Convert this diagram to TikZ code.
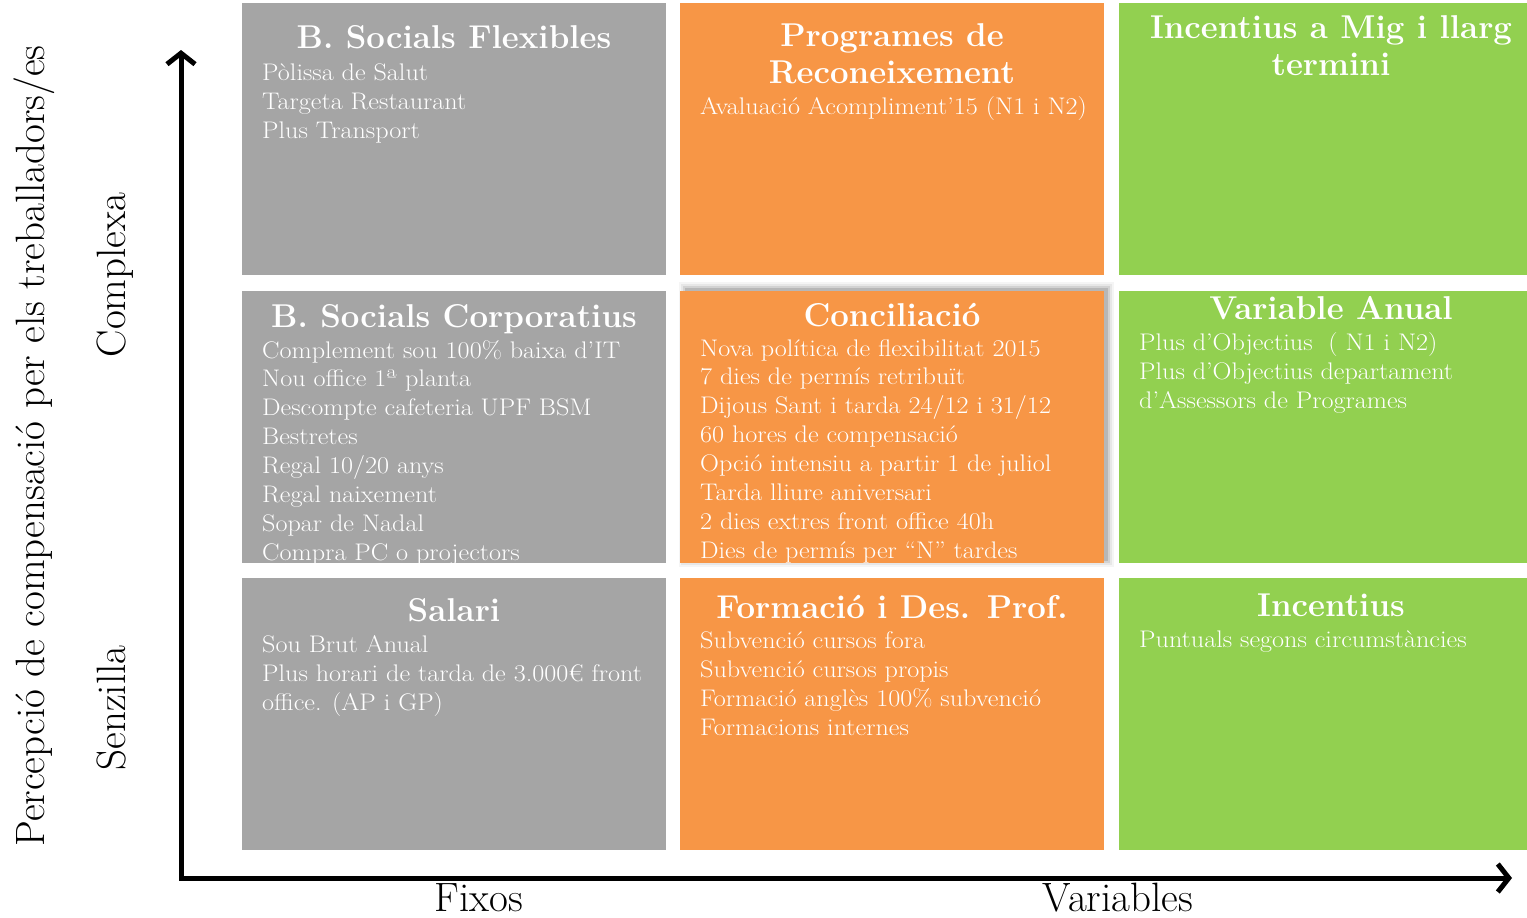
\documentclass[tikz,border=0pt]{standalone}
\usepackage{fontspec}
\usetikzlibrary{arrows.meta}
\definecolor{cgray}{HTML}{A5A5A5}
\definecolor{corange}{HTML}{F79646}
\definecolor{cgreen}{HTML}{92D050}
\newcommand{\wide}[1]{\scalebox{1.09}[1]{#1}}
\begin{document}
\begin{tikzpicture}[x=1pt,y=-1pt,
  cell/.style={draw=none, inner sep=0, outer sep=0, minimum width=424pt, minimum height=272pt, anchor=north west},
  cellg/.style={cell, minimum width=408pt},
  ttl/.style={text=white, font=\fontsize{33}{38}\selectfont\bfseries, inner sep=0, anchor=base},
  item/.style={text=white, font=\fontsize{24}{29}\selectfont, inner sep=0, anchor=base west},
  axlbl/.style={font=\fontsize{41}{44}\selectfont, inner sep=0, anchor=base},
  axis/.style={line width=5pt, line join=miter, {Straight Barb[length=11pt,width=28pt]}-{Straight Barb[length=11pt,width=28pt]}}
]
\useasboundingbox (0,0) rectangle (1527,918);

% shadow of Conciliació
\foreach \d/\o in {7/0.04,5/0.06,3/0.09,1/0.13}
  \fill[black, opacity=\o] (680-\d+6,291-\d-2) rectangle (1104+\d+3,563+\d-3);

% cells
\node[cell, fill=cgray]   (c11) at (242,3)   {};
\node[cell, fill=corange] (c12) at (680,3)   {};
\node[cellg, fill=cgreen] (c13) at (1119,3)  {};
\node[cell, fill=cgray]   (c21) at (242,291) {};
\node[cell, fill=corange] (c22) at (680,291) {};
\node[cellg, fill=cgreen] (c23) at (1119,291){};
\node[cell, fill=cgray]   (c31) at (242,578) {};
\node[cell, fill=corange] (c32) at (680,578) {};
\node[cellg, fill=cgreen] (c33) at (1119,578){};

% titles
\node[ttl] (t11)  at (454,48)  {B. Socials Flexibles};
\node[ttl] (t12a) at (892,46)  {Programes de};
\node[ttl] (t12b) at (892,83)  {Reconeixement};
\node[ttl] (t13a) at (1331,38) {Incentius a Mig i llarg};
\node[ttl] (t13b) at (1331,75) {termini};
\node[ttl] (t21)  at (454,327) {B. Socials Corporatius};
\node[ttl] (t22)  at (892,326) {Conciliació};
\node[ttl] (t23)  at (1331,319){Variable Anual};
\node[ttl] (t31)  at (454,621) {Salari};
\node[ttl] (t32)  at (892,618) {Formació i Des. Prof.};
\node[ttl] (t33)  at (1331,616){Incentius};

% items
\foreach \t [count=\i] in {{Pòlissa de Salut},{Targeta Restaurant},{Plus Transport}}
  \node[item] (i11-\i) at (262,80+29*\i-29) {\wide{\t}};
\node[item] (i12-1) at (700,114) {\wide{Avaluació Acompliment’15 (N1 i N2)}};
\foreach \t [count=\i] in {{Complement sou 100\% baixa d’IT},{Nou office 1ª planta},{Descompte cafeteria UPF BSM},{Bestretes},{Regal 10/20 anys},{Regal naixement},{Sopar de Nadal},{Compra PC o projectors}}
  \node[item] (i21-\i) at (262,358+28.9*\i-28.9) {\wide{\t}};
\foreach \t [count=\i] in {{Nova política de flexibilitat 2015},{7 dies de permís retribuït},{Dijous Sant i tarda 24/12 i 31/12},{60 hores de compensació},{Opció intensiu a partir 1 de juliol},{Tarda lliure aniversari},{2 dies extres front office 40h},{Dies de permís per “N” tardes}}
  \node[item] (i22-\i) at (700,356+28.9*\i-28.9) {\wide{\t}};
\foreach \t [count=\i] in {{Plus d’Objectius~~( N1 i N2)},{Plus d’Objectius departament},{d’Assessors de Programes}}
  \node[item] (i23-\i) at (1139,350+29*\i-29) {\wide{\t}};
\foreach \t [count=\i] in {{Sou Brut Anual},{Plus horari de tarda de 3.000€ front},{office. (AP i GP)}}
  \node[item] (i31-\i) at (262,652+29*\i-29) {\wide{\t}};
\foreach \t [count=\i] in {{Subvenció cursos fora},{Subvenció cursos propis},{Formació anglès 100\% subvenció},{Formacions internes}}
  \node[item] (i32-\i) at (700,648+29*\i-29) {\wide{\t}};
\node[item] (i33-1) at (1139,647) {\wide{Puntuals segons circumstàncies}};

% axes
\coordinate (o) at (181,878);
\coordinate (ytip) at (181,50);
\coordinate (xtip) at (1512,878);
\draw[axis] (ytip) -- (o) -- (xtip);

% axis labels
\node[axlbl] (fx) at (479,911) {Fixos};
\node[axlbl] (vr) at (1118,911) {Variables};
\node[axlbl, rotate=90] (pc) at (44,446) {Percepció de compensació per els treballadors/es};
\node[axlbl, rotate=90] (cx) at (125,275) {Complexa};
\node[axlbl, rotate=90] (sz) at (125,708) {Senzilla};
\end{tikzpicture}
\end{document}
